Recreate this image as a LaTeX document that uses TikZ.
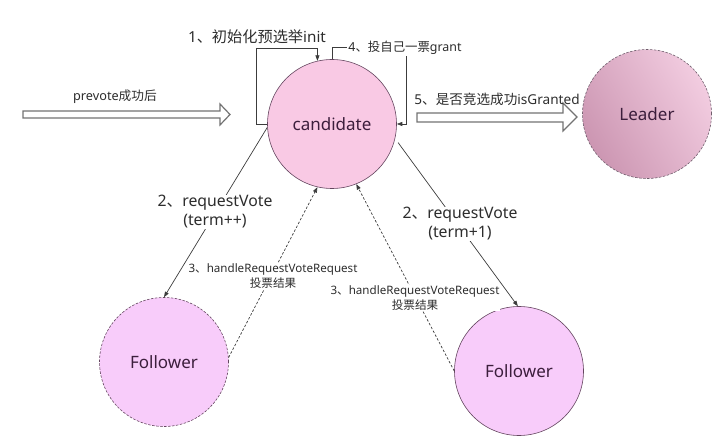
\documentclass[tikz,border=0pt]{standalone}
\usepackage{fontspec}
\setmainfont{Noto Sans}
\newfontfamily\cjk{Noto Sans CJK SC}
\usetikzlibrary{arrows.meta,calc}
\definecolor{candfill}{RGB}{249,201,228}
\definecolor{follfill}{RGB}{248,204,250}
\definecolor{leadA}{RGB}{204,150,178}
\definecolor{leadB}{RGB}{242,204,224}
\definecolor{nodetext}{RGB}{60,30,60}
\definecolor{edge}{RGB}{100,70,95}
\definecolor{linegray}{RGB}{60,60,60}
\definecolor{labelgray}{RGB}{45,45,45}
\definecolor{blockgray}{RGB}{115,115,115}
\begin{document}
\begin{tikzpicture}[x=1pt,y=-1pt,
  state/.style={circle, inner sep=0pt, minimum size=129pt, text=nodetext,
    font=\fontsize{17}{20}\selectfont, line width=0.6pt},
  conn/.style={draw=linegray, line width=0.7pt, -{Triangle[length=5.5pt,width=4pt]}},
  dconn/.style={conn, dash pattern=on 2.5pt off 1.8pt},
  biglbl/.style={text=labelgray, font=\fontsize{15.8}{19}\selectfont, fill=white,
    inner sep=1pt, align=center},
  toplbl/.style={text=labelgray, font=\fontsize{15.2}{17}\selectfont,
    inner sep=1pt, align=center},
  midlbl/.style={text=labelgray, font=\fontsize{12.7}{14}\selectfont, fill=white,
    inner sep=1pt, align=center},
  smalllbl/.style={text=labelgray, font=\fontsize{11.6}{15.5}\selectfont, fill=white,
    inner sep=0.5pt, align=center},
  block/.style={draw=blockgray, line width=1.2pt, fill=white, line join=miter}
]
\useasboundingbox (0,0) rectangle (720,443);

% nodes
\node[state, draw=edge, fill=candfill] (cand) at (332,124) {candidate};
\node[state, draw=edge!60!gray, dash pattern=on 2.5pt off 1.5pt,
      left color=leadA, right color=leadB, shading angle=120] (lead) at (647,114) {Leader};
\node[state, draw=edge, dash pattern=on 2.5pt off 1.5pt, fill=follfill] (f1) at (164,362) {Follower};
\node[state, draw=edge, fill=follfill] (f2) at (519,371) {Follower};

% block arrows
\draw[block] (23,111) -- (220,111) -- (220,104) -- (230,114.5) -- (220,125) -- (220,118) -- (23,118) -- cycle;
\draw[block] (417,113) -- (563,113) -- (563,103) -- (577,117) -- (563,131) -- (563,122) -- (417,122) -- cycle;

% loops
\draw[conn] (cand.west) -- ++(-11,0) |- ([yshift=13pt]cand.103) -- (cand.103);
\draw[conn] (cand.north) -- ++(0,-12) -| ([xshift=10pt]cand.east) -- (cand.east);

% request / response
\draw[conn] (cand.183.5) -- (f1.90);
\draw[conn, shorten <=5pt] (cand.-13) -- (f2.91);
\draw[dconn] (f1.4) -- (cand.257.5);
\draw[dconn] (f2.180) -- (cand.292);

% labels
\node[midlbl, fill=none] (lprev) at (115,97) {prevote{\cjk 成功后}};
\node[midlbl, fill=none, font=\fontsize{13.6}{15}\selectfont] (lwin) at (497,99) {5{\cjk 、是否竞选成功}isGranted};
\node[toplbl] (linit) at (257,37) {1{\cjk 、初始化预选举}init};
\node[midlbl, font=\fontsize{12.4}{14}\selectfont] (lgrant) at (405,48) {4{\cjk 、投自己一票}grant};
\node[biglbl] (lreq1) at (215,212) {2{\cjk 、}requestVote\\(term++)};
\node[biglbl] (lreq2) at (460,224) {2{\cjk 、}requestVote\\(term+1)};
\node[smalllbl] (lresp1) at (273,276) {3{\cjk 、}handleRequestVoteRequest\\{\cjk 投票结果}};
\node[smalllbl] (lresp2) at (415,298) {3{\cjk 、}handleRequestVoteRequest\\{\cjk 投票结果}};
\end{tikzpicture}
\end{document}
